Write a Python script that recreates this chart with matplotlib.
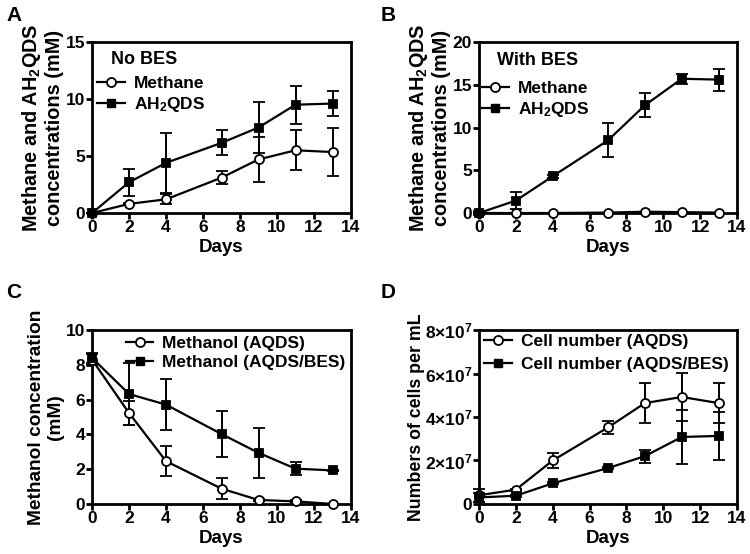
import numpy as np
import matplotlib
matplotlib.use('Agg')
import matplotlib.pyplot as plt
from matplotlib.lines import Line2D

plt.rcParams['font.family'] = ['Liberation Sans', 'DejaVu Sans']
plt.rcParams['font.weight'] = 'bold'
plt.rcParams['axes.labelweight'] = 'bold'
plt.rcParams['mathtext.default'] = 'regular'

# ===== data =====
days = [0, 2, 4, 7, 9, 11, 13]

# A: no BES
a_methane = [0, 0.8, 1.2, 3.1, 4.7, 5.5, 5.35]
a_methane_err = [0, 0.1, 0.45, 0.55, 1.95, 1.75, 2.1]
a_ah2qds = [0, 2.7, 4.4, 6.15, 7.5, 9.5, 9.6]
a_ah2qds_err = [0, 1.2, 2.65, 1.1, 2.2, 1.65, 1.1]

# B: with BES
b_methane = [0, 0, 0, 0.05, 0.15, 0.1, 0.05]
b_methane_err = [0, 0, 0, 0, 0, 0, 0]
b_ah2qds = [0, 1.45, 4.3, 8.5, 12.6, 15.7, 15.6]
b_ah2qds_err = [0.2, 1.0, 0.15, 2.0, 1.4, 0.6, 1.3]

# C: methanol
c_aqds = [8.3, 5.23, 2.46, 0.88, 0.23, 0.15, 0.0]
c_aqds_err = [0.3, 0.67, 0.85, 0.62, 0.05, 0.05, 0.0]
c_bes = [8.4, 6.32, 5.71, 4.02, 2.94, 2.03, 1.93]
c_bes_err = [0.3, 1.76, 1.45, 1.3, 1.45, 0.37, 0.05]

# D: cell numbers
d_aqds = [0.4e7, 0.66e7, 2.0e7, 3.52e7, 4.64e7, 4.92e7, 4.64e7]
d_aqds_err = [0.3e7, 0.05e7, 0.35e7, 0.3e7, 0.92e7, 1.1e7, 0.92e7]
d_bes = [0.3e7, 0.38e7, 0.95e7, 1.65e7, 2.2e7, 3.08e7, 3.13e7]
d_bes_err = [0.2e7, 0.05e7, 0.05e7, 0.05e7, 0.3e7, 1.24e7, 1.1e7]

d_ticks = [0, 2e7, 4e7, 6e7, 8e7]
d_ticklabels = ['0', r'2×10$^7$', r'4×10$^7$', r'6×10$^7$', r'8×10$^7$']

fig = plt.figure(figsize=(7.5, 5.54), dpi=100)
axA = fig.add_axes([0.1227, 0.6155, 0.3453, 0.3087])
axB = fig.add_axes([0.6387, 0.6155, 0.344, 0.3087])
axC = fig.add_axes([0.1227, 0.0903, 0.3453, 0.314])
axD = fig.add_axes([0.6387, 0.0903, 0.344, 0.314])


def draw(ax, y, err, marker, face):
    ax.errorbar(days, y, yerr=err, color='black', lw=1.6, marker=marker,
                ms=6.5 if marker == 'o' else 6, mfc=face, mec='black', mew=1.3,
                capsize=4, capthick=1.4, elinewidth=1.4, clip_on=False, zorder=3)


def style(ax, ylim, yticks, yticklabels=None):
    ax.set_xlim(0, 14)
    ax.set_ylim(*ylim)
    ax.set_xticks(np.arange(0, 15, 2))
    ax.set_yticks(yticks)
    ax.set_xticklabels([str(t) for t in range(0, 15, 2)], fontweight='bold')
    if yticklabels is None:
        yticklabels = [str(int(t)) for t in yticks]
    ax.set_yticklabels(yticklabels, fontweight='bold')
    for s in ax.spines.values():
        s.set_linewidth(2)
    ax.tick_params(width=2, length=4, labelsize=12.5, pad=1)
    ax.set_xlabel('Days', fontsize=13.5, fontweight='bold', labelpad=3)


def legend(ax, labels, anchor, spacing=0.2):
    handles = [Line2D([], [], color='black', lw=1.6, marker='o', ms=6.5,
                      mfc='white', mec='black', mew=1.3),
               Line2D([], [], color='black', lw=1.6, marker='s', ms=6,
                      mfc='black', mec='black')]
    leg = ax.legend(handles, labels, loc='upper left', bbox_to_anchor=anchor,
                    frameon=False, fontsize=12.5, handlelength=1.6,
                    handletextpad=0.5, borderaxespad=0, borderpad=0,
                    labelspacing=spacing)
    for t in leg.get_texts():
        t.set_fontweight('bold')


# ===== A =====
draw(axA, a_methane, a_methane_err, 'o', 'white')
draw(axA, a_ah2qds, a_ah2qds_err, 's', 'black')
style(axA, (0, 15), [0, 5, 10, 15])
axA.set_ylabel('Methane and AH$_2$QDS\nconcentrations (mM)', fontsize=14.3,
               fontweight='bold', labelpad=1, linespacing=1.15)
axA.text(0.075, 0.9, 'No BES', transform=axA.transAxes, fontsize=13,
         fontweight='bold', va='center')
legend(axA, ['Methane', 'AH$_2$QDS'], (0.02, 0.8))

# ===== B =====
draw(axB, b_methane, b_methane_err, 'o', 'white')
draw(axB, b_ah2qds, b_ah2qds_err, 's', 'black')
style(axB, (0, 20), [0, 5, 10, 15, 20])
axB.set_ylabel('Methane and AH$_2$QDS\nconcentrations (mM)', fontsize=14.3,
               fontweight='bold', labelpad=1, linespacing=1.15)
axB.text(0.07, 0.89, 'With BES', transform=axB.transAxes, fontsize=13,
         fontweight='bold', va='center')
legend(axB, ['Methane', 'AH$_2$QDS'], (0.01, 0.77))

# ===== C =====
draw(axC, c_aqds, c_aqds_err, 'o', 'white')
draw(axC, c_bes, c_bes_err, 's', 'black')
style(axC, (0, 10), [0, 2, 4, 6, 8, 10])
axC.set_ylabel('Methanol concentration\n(mM)', fontsize=13.8,
               fontweight='bold', labelpad=1, linespacing=1.15)
legend(axC, ['Methanol (AQDS)', 'Methanol (AQDS/BES)'], (0.13, 0.965))

# ===== D =====
draw(axD, d_aqds, d_aqds_err, 'o', 'white')
draw(axD, d_bes, d_bes_err, 's', 'black')
style(axD, (0, 8e7), d_ticks, d_ticklabels)
axD.set_ylabel('Numbers of cells per mL', fontsize=12.8, fontweight='bold',
               labelpad=0)
legend(axD, ['Cell number (AQDS)', 'Cell number (AQDS/BES)'], (0.02, 0.98),
       spacing=0.45)

for lab, x, y in [('A', 0.008, 0.972), ('B', 0.508, 0.972),
                  ('C', 0.008, 0.472), ('D', 0.508, 0.472)]:
    fig.text(x, y, lab, fontsize=15, fontweight='bold', va='center')

plt.savefig('out.png', dpi=100)
